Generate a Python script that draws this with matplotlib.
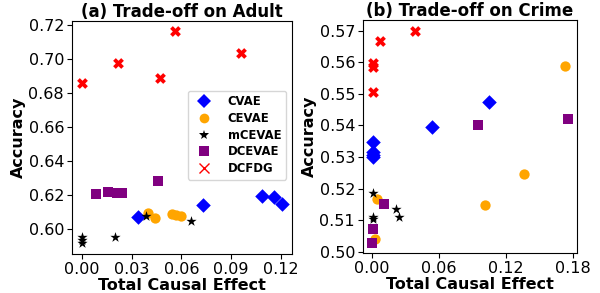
import matplotlib
matplotlib.use("Agg")
import matplotlib.pyplot as plt
from matplotlib.lines import Line2D

methods = ["CVAE", "CEVAE", "mCEVAE", "DCEVAE", "DCFDG"]
colors = {"CVAE": "blue", "CEVAE": "orange", "mCEVAE": "black", "DCEVAE": "purple", "DCFDG": "red"}
markers = {"CVAE": "D", "CEVAE": "o", "mCEVAE": "*", "DCEVAE": "s", "DCFDG": "X"}
legend_markers = {"CVAE": "D", "CEVAE": "o", "mCEVAE": "*", "DCEVAE": "s", "DCFDG": "x"}

# Adult dataset
adult_cvae_x = [0.034, 0.0732, 0.1084, 0.1158, 0.1204]
adult_cvae_y = [0.6069, 0.6145, 0.6194, 0.6188, 0.6147]
adult_cevae_x = [0.0402, 0.0442, 0.0542, 0.0566, 0.0596]
adult_cevae_y = [0.6094, 0.6067, 0.6088, 0.6082, 0.6075]
adult_mcevae_x = [0.0, 0.0, 0.0, 0.0202, 0.0386, 0.066]
adult_mcevae_y = [0.5955, 0.5934, 0.5916, 0.5953, 0.6075, 0.6047]
adult_dcevae_x = [0.0088, 0.0156, 0.0214, 0.024, 0.046]
adult_dcevae_y = [0.6208, 0.622, 0.6214, 0.621, 0.6286]
adult_dcfdg_x = [0.0, 0.0216, 0.047, 0.056, 0.096]
adult_dcfdg_y = [0.686, 0.698, 0.689, 0.7165, 0.7035]

# Crime dataset
crime_cvae_x = [0.1046, 0.0536, 0.0006, 0.0006, 0.0006, 0.0006]
crime_cvae_y = [0.5475, 0.5395, 0.5349, 0.5315, 0.5305, 0.5300]
crime_cevae_x = [0.1731, 0.1363, 0.1012, 0.0042, 0.0027]
crime_cevae_y = [0.5587, 0.5247, 0.5148, 0.5167, 0.5041]
crime_mcevae_x = [0.0006, 0.0216, 0.024, 0.0006, 0.0006]
crime_mcevae_y = [0.5185, 0.5137, 0.5111, 0.5111, 0.5103]
crime_dcevae_x = [0.0952, 0.1752, 0.011, 0.0012, 0.0003]
crime_dcevae_y = [0.5401, 0.5420, 0.5152, 0.5072, 0.5029]
crime_dcfdg_x = [0.0386, 0.0075, 0.0012, 0.0012, 0.0012]
crime_dcfdg_y = [0.5700, 0.5667, 0.5597, 0.5586, 0.5507]

adult = {
    "CVAE": (adult_cvae_x, adult_cvae_y),
    "CEVAE": (adult_cevae_x, adult_cevae_y),
    "mCEVAE": (adult_mcevae_x, adult_mcevae_y),
    "DCEVAE": (adult_dcevae_x, adult_dcevae_y),
    "DCFDG": (adult_dcfdg_x, adult_dcfdg_y),
}
crime = {
    "CVAE": (crime_cvae_x, crime_cvae_y),
    "CEVAE": (crime_cevae_x, crime_cevae_y),
    "mCEVAE": (crime_mcevae_x, crime_mcevae_y),
    "DCEVAE": (crime_dcevae_x, crime_dcevae_y),
    "DCFDG": (crime_dcfdg_x, crime_dcfdg_y),
}

adult_xticks = [0.00, 0.03, 0.06, 0.09, 0.12]
adult_yticks = [0.60, 0.62, 0.64, 0.66, 0.68, 0.70, 0.72]
crime_xticks = [0.00, 0.06, 0.12, 0.18]
crime_yticks = [0.50, 0.51, 0.52, 0.53, 0.54, 0.55, 0.56, 0.57]

sizes = {"CVAE": 55, "CEVAE": 55, "mCEVAE": 60, "DCEVAE": 50, "DCFDG": 60}

fig = plt.figure(figsize=(6.0, 2.93), dpi=100)
ax1 = fig.add_axes([0.1195, 0.1331, 0.3667, 0.7963])
ax2 = fig.add_axes([0.6045, 0.1355, 0.3577, 0.796])

FS = 11.5
for ax, data, title, xt, yt in [
    (ax1, adult, "(a) Trade-off on Adult", adult_xticks, adult_yticks),
    (ax2, crime, "(b) Trade-off on Crime", crime_xticks, crime_yticks),
]:
    for m in methods:
        x, y = data[m]
        ax.scatter(x, y, c=colors[m], marker=markers[m], s=sizes[m], linewidths=0, zorder=3)
    ax.set_title(title, fontsize=12, fontweight="bold", pad=3)
    ax.set_xlabel("Total Causal Effect", fontsize=FS, fontweight="bold", labelpad=1)
    ax.set_ylabel("Accuracy", fontsize=FS, fontweight="bold", labelpad=1.5)
    ax.set_xticks(xt)
    ax.set_yticks(yt)
    ax.set_xticklabels([f"{v:.2f}" for v in xt])
    ax.set_yticklabels([f"{v:.2f}" for v in yt])
    ax.tick_params(labelsize=FS, pad=2)

handles = [
    Line2D([], [], linestyle="none", marker=legend_markers[m], color=colors[m],
           markersize=7 if m != "mCEVAE" else 7.5, markeredgewidth=1 if m == "DCFDG" else 0)
    for m in methods
]
ax1.legend(handles, methods, loc="upper right", bbox_to_anchor=(0.974, 0.700),
           prop={"weight": "bold", "size": 8.4}, borderaxespad=0, handletextpad=1.0,
           borderpad=0.41, labelspacing=0.31, handlelength=2.0)

fig.savefig("out.png", dpi=100)
